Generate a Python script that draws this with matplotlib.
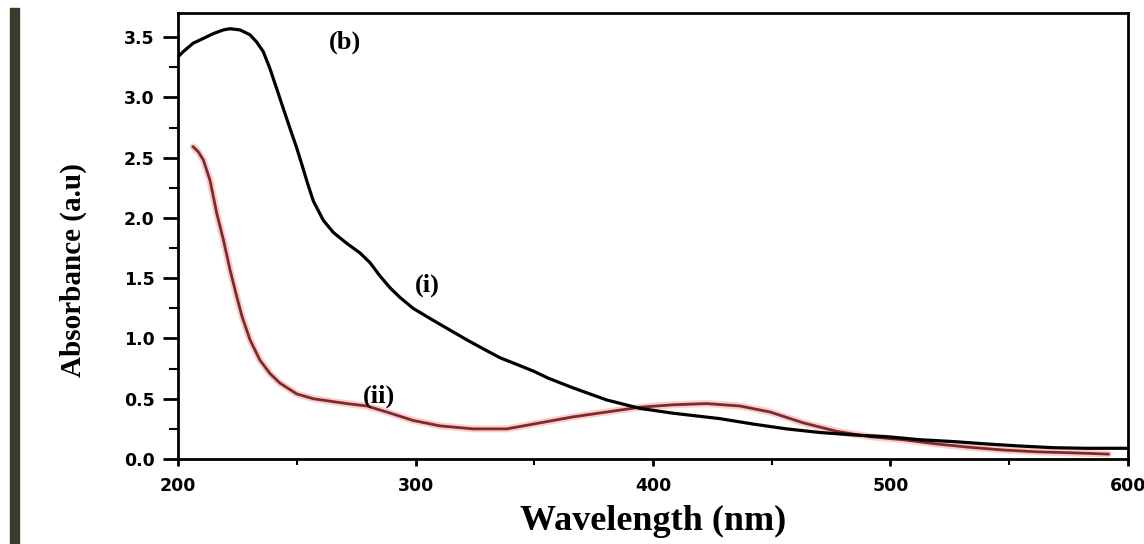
import numpy as np
import matplotlib.pyplot as plt
from matplotlib.patches import Rectangle
from matplotlib.ticker import MultipleLocator

# curve (i) - black
wl_i = [200, 202.2, 206.4, 210.7, 214.9, 219.1, 221.9, 226.1, 230.3, 233.1, 235.9,
        238.7, 241.6, 244.3, 247.2, 250, 252.2, 254.5, 257, 261.2, 265.4, 271, 276.6,
        280.8, 285, 289.3, 293.5, 299, 307.5, 314.5, 321.5, 328, 335.6, 342, 349.6,
        356, 366.4, 380.5, 394.5, 408.5, 428.2, 442.2, 456.3, 470.3, 484.3, 498.4,
        512.4, 526.4, 540.5, 554.5, 568.5, 582.6, 600]
abs_i = [3.336, 3.38, 3.45, 3.49, 3.53, 3.56, 3.57, 3.56, 3.52, 3.46, 3.38,
         3.24, 3.07, 2.91, 2.74, 2.58, 2.44, 2.29, 2.14, 1.98, 1.88, 1.79, 1.71,
         1.63, 1.52, 1.42, 1.34, 1.25, 1.15, 1.07, 0.99, 0.92, 0.84, 0.79, 0.73,
         0.67, 0.59, 0.49, 0.42, 0.38, 0.335, 0.29, 0.25, 0.22, 0.20, 0.185,
         0.16, 0.145, 0.125, 0.108, 0.094, 0.089, 0.089]

# curve (ii) - red
wl_ii = [206.4, 208.5, 210.7, 213.5, 216.3, 219.1, 221.9, 224.7, 227, 230.3, 234.5,
         238.7, 242.9, 250, 257, 264, 271, 279.5, 287.9, 299, 310.3, 324.3, 338.4,
         352.4, 366.4, 380.5, 394.5, 408.5, 422.6, 436.6, 449.3, 463.3, 477.3, 491.4,
         505.4, 519.5, 533.5, 547.5, 561.6, 575.6, 591.7]
abs_ii = [2.59, 2.55, 2.48, 2.31, 2.04, 1.82, 1.57, 1.35, 1.18, 0.99, 0.82,
          0.71, 0.63, 0.54, 0.50, 0.48, 0.46, 0.44, 0.39, 0.32, 0.275, 0.25, 0.25,
          0.30, 0.35, 0.39, 0.43, 0.45, 0.46, 0.44, 0.39, 0.30, 0.23, 0.185,
          0.16, 0.125, 0.097, 0.075, 0.06, 0.052, 0.041]

fig = plt.figure(figsize=(11.44, 5.44), dpi=100)
ax = fig.add_axes([0.1556, 0.1562, 0.8304, 0.8198])

# dark strip on the left edge of the scan
fig.patches.append(Rectangle((0.009, 0.0), 0.008, 0.985, transform=fig.transFigure,
                             color="#3b3d2c", zorder=0))

ax.plot(wl_ii, abs_ii, color="#f7b8b8", lw=5, alpha=0.7, solid_capstyle="round",
        solid_joinstyle="round")
ax.plot(wl_ii, abs_ii, color="#7e2a2a", lw=2, solid_joinstyle="round")
ax.plot(wl_i, abs_i, color="black", lw=2.3, solid_joinstyle="round")

ax.set_xlim(200, 600)
ax.set_ylim(0, 3.7)
ax.xaxis.set_major_locator(MultipleLocator(100))
ax.xaxis.set_minor_locator(MultipleLocator(50))
ax.yaxis.set_major_locator(MultipleLocator(0.5))
ax.yaxis.set_minor_locator(MultipleLocator(0.25))
ax.tick_params(axis="y", which="major", direction="out", length=11, width=2, pad=6)
ax.tick_params(axis="y", which="minor", direction="out", length=6.5, width=1.5)
ax.tick_params(axis="x", which="major", direction="out", length=5, width=2, pad=8)
ax.tick_params(axis="x", which="minor", direction="out", length=4, width=1.5)
ax.yaxis.set_major_formatter(plt.FuncFormatter(lambda v, p: f"{v:.1f}"))
for lbl in ax.get_xticklabels() + ax.get_yticklabels():
    lbl.set_fontweight("bold")
    lbl.set_fontsize(12.5)
for s in ax.spines.values():
    s.set_linewidth(2)

serif = "Liberation Serif"
ax.set_xlabel("Wavelength (nm)", family=serif, fontweight="bold", fontsize=26)
ax.set_ylabel("Absorbance (a.u)", family=serif, fontweight="bold", fontsize=21)
ax.xaxis.label.set_va("center")
ax.yaxis.label.set_va("center")
ax.xaxis.set_label_coords(0.5, -0.141)
ax.yaxis.set_label_coords(-0.11, 0.424)

ax.text(270.3, 3.46, "(b)", family=serif, fontweight="bold", fontsize=19, ha="center", va="center")
ax.text(304.8, 1.44, "(i)", family=serif, fontweight="bold", fontsize=19, ha="center", va="center")
ax.text(284.6, 0.52, "(ii)", family=serif, fontweight="bold", fontsize=19, ha="center", va="center")

fig.savefig("out.png", dpi=100)
